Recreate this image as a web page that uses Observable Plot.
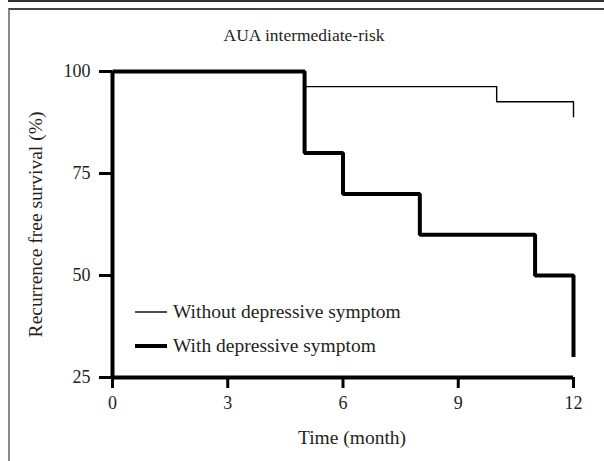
<!DOCTYPE html>
<html>
<head>
<meta charset="utf-8">
<script src="https://cdn.jsdelivr.net/npm/d3@7"></script>
<script src="https://cdn.jsdelivr.net/npm/@observablehq/plot@0.6"></script>
<style>
  html, body { margin: 0; padding: 0; background: #fff; }
  #wrap { position: relative; width: 604px; height: 461px; overflow: hidden; }
  #topline { position: absolute; left: 8px; top: 0; width: 596px; height: 2px; background: #333; }
  #frame { position: absolute; left: 8px; top: 8px; width: 596px; height: 453px; border-top: 2px solid #444; border-left: 2px solid #888; box-sizing: border-box; }
  #chart { position: absolute; left: 0; top: 0; }
</style>
</head>
<body>
<div id="wrap">
  <div id="topline"></div>
  <div id="frame"></div>
  <div id="chart"></div>
</div>
<script>
const title = "AUA intermediate-risk";
const xLabel = "Time (month)";
const yLabel = "Recurrence free survival (%)";
const xTicks = [0, 3, 6, 9, 12];
const yTicks = [25, 50, 75, 100];
const seriesNames = ["Without depressive symptom", "With depressive symptom"];

// Kaplan-Meier steps (month, survival %)
const withoutTime = [0, 5, 10, 12, 12];
const withoutSurv = [100, 96.3, 92.6, 92.6, 88.9];
const withTime = [0, 5, 6, 8, 11, 12, 12];
const withSurv = [100, 80, 70, 60, 50, 50, 30];

const withoutData = withoutTime.map((t, i) => ({t, s: withoutSurv[i]}));
const withData = withTime.map((t, i) => ({t, s: withSurv[i]}));

const FONT = "Liberation Serif, Times New Roman, serif";
const INK = "#231f20";

const legendMark = (index, scales, values, dims) => {
  const g = d3.create("svg:g");
  const x0 = dims.marginLeft;
  const yb = dims.height - dims.marginBottom;
  const rows = [{name: seriesNames[0], w: 1.4, y: yb - 65}, {name: seriesNames[1], w: 4, y: yb - 31}];
  for (const r of rows) {
    g.append("line").attr("x1", x0 + 23).attr("x2", x0 + 55).attr("y1", r.y).attr("y2", r.y)
      .attr("stroke", "#000").attr("stroke-width", r.w);
    g.append("text").attr("x", x0 + 61).attr("y", r.y).attr("dy", "0.32em")
      .attr("text-anchor", "start")
      .attr("fill", INK).attr("font-size", 19.5).attr("font-family", FONT).text(r.name);
  }
  return g.node();
};

const chart = Plot.plot({
  width: 604,
  height: 461,
  marginLeft: 112,
  marginRight: 31,
  marginTop: 71,
  marginBottom: 84,
  style: {fontFamily: FONT, fontSize: "18px", color: INK, background: "transparent"},
  x: {domain: [0, 12]},
  y: {domain: [25, 100]},
  marks: [
    Plot.axisX({ticks: xTicks, tickSize: 11, tickPadding: 8, strokeWidth: 3, stroke: "#000", label: null, fill: INK, fontSize: 18}),
    Plot.axisY({ticks: yTicks, tickSize: 13, tickPadding: 9, strokeWidth: 3, stroke: "#000", label: null, fill: INK, fontSize: 18}),
    Plot.ruleY([25], {stroke: "#000", strokeWidth: 4}),
    Plot.ruleX([0], {stroke: "#000", strokeWidth: 4}),
    Plot.line(withoutData, {x: "t", y: "s", curve: "step-after", stroke: "#000", strokeWidth: 1.4}),
    Plot.line(withData, {x: "t", y: "s", curve: "step-after", stroke: "#000", strokeWidth: 4, strokeLinejoin: "miter", strokeLinecap: "butt"}),
    Plot.text([title], {frameAnchor: "top", textAnchor: "middle", dx: -39, dy: -43, fontSize: 17.5, fill: INK}),
    Plot.text([xLabel], {frameAnchor: "bottom", textAnchor: "middle", dx: 9, dy: 66, fontSize: 19.5, fill: INK}),
    Plot.text([yLabel], {frameAnchor: "left", textAnchor: "middle", dx: -77, rotate: -90, fontSize: 19.5, fill: INK}),
    legendMark
  ]
});
document.getElementById("chart").appendChild(chart);
</script>
</body>
</html>
